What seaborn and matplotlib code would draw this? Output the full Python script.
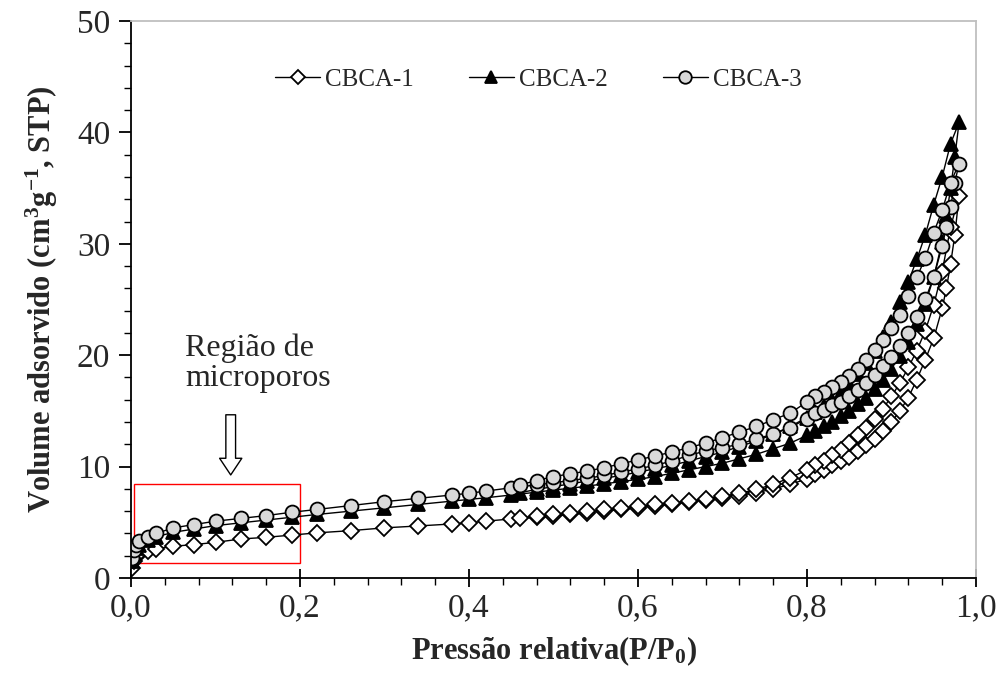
import numpy as np
import pandas as pd
import matplotlib
matplotlib.use("Agg")
import matplotlib.pyplot as plt
import seaborn as sns
from matplotlib.patches import Rectangle
from matplotlib.ticker import MultipleLocator, FuncFormatter

# Relative pressure grids for the adsorption and desorption branches
ADS_P = [0.001, 0.003, 0.006, 0.01, 0.02, 0.03, 0.05, 0.075, 0.10, 0.13, 0.16, 0.19, 0.22,
         0.26, 0.30, 0.34, 0.38, 0.40, 0.42, 0.45, 0.48, 0.50, 0.52, 0.54, 0.56, 0.58, 0.60,
         0.62, 0.64, 0.66, 0.68, 0.70, 0.72, 0.74, 0.76, 0.78, 0.80, 0.81, 0.82, 0.83, 0.84,
         0.85, 0.86, 0.87, 0.88, 0.89, 0.90, 0.91, 0.92, 0.93, 0.94, 0.95, 0.96, 0.965, 0.97,
         0.975, 0.98]
DES_P = [0.97, 0.96, 0.95, 0.94, 0.93, 0.92, 0.91, 0.90, 0.89, 0.88, 0.87, 0.86, 0.85, 0.84,
         0.83, 0.82, 0.81, 0.80, 0.78, 0.76, 0.74, 0.72, 0.70, 0.68, 0.66, 0.64, 0.62, 0.60,
         0.58, 0.56, 0.54, 0.52, 0.50, 0.48, 0.46]

# Adsorbed volume (cm3/g STP)
CBCA1_ADS = [0.9, 1.5, 1.9, 2.2, 2.45, 2.6, 2.85, 3.0, 3.2, 3.5, 3.65, 3.85, 4.05,
             4.25, 4.5, 4.67, 4.85, 4.95, 5.1, 5.3, 5.45, 5.55, 5.7, 5.85, 6.0, 6.15, 6.3,
             6.45, 6.6, 6.8, 7.0, 7.2, 7.4, 7.65, 8.0, 8.4, 8.9, 9.3, 9.7, 10.1, 10.5,
             10.9, 11.4, 11.9, 12.5, 13.2, 14.0, 15.0, 16.2, 17.8, 19.6, 21.5, 24.2, 26.0, 28.2,
             30.8, 34.3]
CBCA1_DES = [31.5, 27.5, 24.5, 22.2, 20.4, 18.9, 17.5, 16.3, 15.2, 14.3, 13.5, 12.8, 12.1, 11.5,
             11.0, 10.5, 10.1, 9.7, 9.0, 8.4, 7.95, 7.6, 7.35, 7.1, 6.9, 6.75, 6.6, 6.45,
             6.3, 6.15, 6.0, 5.85, 5.7, 5.55, 5.4]

CBCA2_ADS = [1.5, 2.2, 2.7, 3.0, 3.4, 3.7, 4.1, 4.4, 4.7, 4.95, 5.2, 5.45, 5.7,
             6.0, 6.3, 6.6, 6.9, 7.05, 7.2, 7.45, 7.7, 7.9, 8.05, 8.25, 8.45, 8.65, 8.85,
             9.1, 9.4, 9.7, 10.0, 10.3, 10.7, 11.1, 11.6, 12.1, 12.8, 13.2, 13.6, 14.0, 14.5,
             15.0, 15.6, 16.2, 17.0, 17.8, 18.8, 19.9, 21.2, 22.8, 24.6, 27.0, 30.2, 32.5, 35.0,
             37.8, 40.9]
CBCA2_DES = [39.0, 36.0, 33.5, 30.8, 28.6, 26.6, 24.8, 23.0, 21.6, 20.4, 19.3, 18.3, 17.4, 16.6,
             16.0, 15.4, 14.9, 14.4, 13.6, 12.9, 12.3, 11.8, 11.3, 10.9, 10.5, 10.1, 9.8, 9.5,
             9.2, 8.95, 8.7, 8.45, 8.2, 7.95, 7.65]

CBCA3_ADS = [1.8, 2.5, 3.0, 3.35, 3.7, 4.0, 4.5, 4.8, 5.1, 5.35, 5.6, 5.9, 6.15,
             6.5, 6.85, 7.15, 7.45, 7.6, 7.8, 8.1, 8.35, 8.55, 8.75, 8.95, 9.2, 9.5, 9.8,
             10.1, 10.5, 11.0, 11.4, 11.7, 12.0, 12.5, 12.9, 13.5, 14.3, 14.8, 15.1, 15.5, 15.8,
             16.3, 16.9, 17.5, 18.2, 19.0, 19.8, 20.8, 22.0, 23.4, 25.0, 27.0, 29.8, 31.5, 33.3,
             35.5, 37.2]
CBCA3_DES = [35.5, 33.0, 31.0, 28.7, 27.0, 25.3, 23.6, 22.4, 21.4, 20.5, 19.6, 18.8, 18.1, 17.6,
             17.1, 16.7, 16.3, 15.8, 14.8, 14.2, 13.6, 13.1, 12.6, 12.1, 11.7, 11.3, 10.95, 10.6,
             10.25, 9.9, 9.6, 9.35, 9.1, 8.75, 8.35]

LABELS = ["CBCA-1", "CBCA-2", "CBCA-3"]

sns.set_style("white")
plt.rcParams["font.family"] = ["Liberation Serif", "DejaVu Serif"]
plt.rcParams["mathtext.fontset"] = "custom"
plt.rcParams["mathtext.rm"] = "Liberation Serif"
plt.rcParams["mathtext.bf"] = "Liberation Serif:bold"
plt.rcParams["mathtext.it"] = "Liberation Serif:italic"

fig = plt.figure(figsize=(9.97, 6.84), dpi=100)
ax = fig.add_axes([0.1314, 0.1550, 0.8475, 0.8143])

styles = [
    dict(marker="D", markerfacecolor="white", markersize=8.0),
    dict(marker="^", markerfacecolor="black", markersize=10.0),
    dict(marker="o", markerfacecolor="#d9d9d9", markersize=10.0),
]
series = [(CBCA1_ADS, CBCA1_DES), (CBCA2_ADS, CBCA2_DES), (CBCA3_ADS, CBCA3_DES)]

for label, (ads, des), st in zip(LABELS, series, styles):
    df = pd.DataFrame({"P": list(ADS_P) + list(DES_P), "V": list(ads) + list(des)})
    sns.lineplot(data=df, x="P", y="V", ax=ax, sort=False, estimator=None,
                 color="black", linewidth=1.0, markeredgecolor="black",
                 markeredgewidth=1.3, label=label, **st)

ax.set_xlim(0, 1.0)
ax.set_ylim(0, 50)

ax.xaxis.set_major_locator(MultipleLocator(0.2))
ax.xaxis.set_minor_locator(MultipleLocator(0.04))
ax.yaxis.set_major_locator(MultipleLocator(10))
ax.yaxis.set_minor_locator(MultipleLocator(2))
ax.xaxis.set_major_formatter(FuncFormatter(lambda v, p: f"{v:.1f}".replace(".", ",")))
ax.yaxis.set_major_formatter(FuncFormatter(lambda v, p: f"{v:.0f}"))

ax.tick_params(axis="x", which="major", direction="inout", length=13, width=1.3,
               labelsize=24, pad=4, color="black")
ax.tick_params(axis="x", which="minor", direction="out", length=5, width=1.0, color="black")
ax.tick_params(axis="y", which="major", direction="out", length=9, width=1.3,
               labelsize=24, pad=6, color="black")
ax.tick_params(axis="y", which="minor", direction="out", length=5, width=1.0, color="black")
ax.tick_params(which="both", bottom=True, left=True, top=False, right=False)

for side in ("left", "bottom"):
    ax.spines[side].set_color("black")
    ax.spines[side].set_linewidth(1.3)
for side in ("top", "right"):
    ax.spines[side].set_color("#bfbfbf")
    ax.spines[side].set_linewidth(1.3)

ax.set_xlabel(r"Pressão relativa(P/P$_{\mathbf{0}}$)", fontsize=22, fontweight="bold", labelpad=8)
ax.set_ylabel(r"Volume adsorvido (cm$^{\mathbf{3}}$g$^{\mathbf{-1}}$, STP)", fontsize=22,
              fontweight="bold", labelpad=12)

# Micropore region highlight
ax.add_patch(Rectangle((0.003, 1.35), 0.197, 7.1, fill=False, edgecolor="red", linewidth=1.0,
                       zorder=1))
ax.text(0.064, 16.6, "Região de\nmicroporos", fontsize=23, ha="left", va="bottom",
        linespacing=1.05)
ax.annotate("", xy=(0.118, 9.25), xytext=(0.118, 14.65),
            arrowprops=dict(arrowstyle="simple,head_length=1.2,head_width=1.6,tail_width=0.7",
                            mutation_scale=10, facecolor="white", edgecolor="black",
                            linewidth=1.0, shrinkA=0, shrinkB=0))

ax.legend(loc="upper center", bbox_to_anchor=(0.482, 0.955), ncol=3, frameon=False,
          fontsize=18, handlelength=1.8, handletextpad=0.2, columnspacing=2.2,
          markerscale=0.9)

fig.savefig("out.png", dpi=100)
